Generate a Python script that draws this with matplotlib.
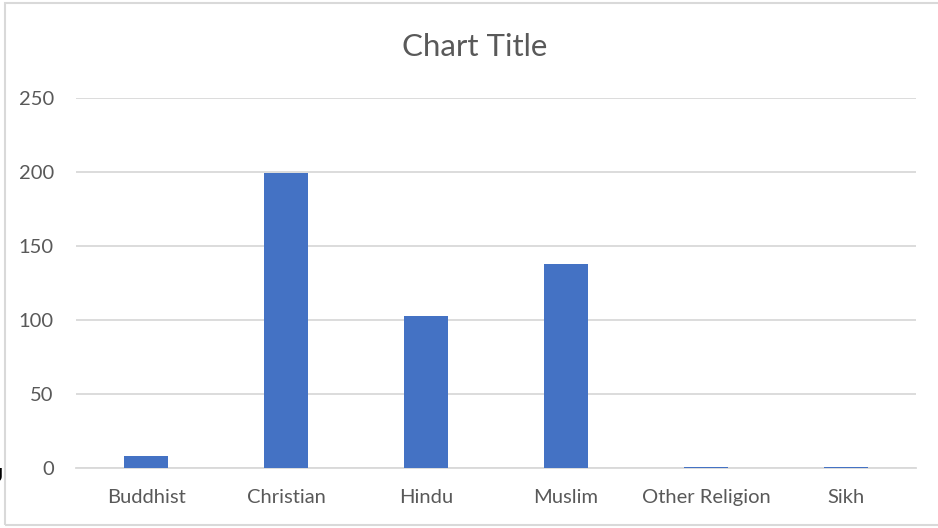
import matplotlib
matplotlib.use("Agg")
import matplotlib.pyplot as plt
from matplotlib.patches import Rectangle

categories = ["Buddhist", "Christian", "Hindu", "Muslim", "Other Religion", "Sikh"]
values = [8, 199, 103, 138, 1, 1]
yticks = [0, 50, 100, 150, 200, 250]

plt.rcParams['font.family'] = ['Lato', 'DejaVu Sans']
text_color = '#595959'
grid_color = '#D9D9D9'

fig = plt.figure(figsize=(9.38, 5.28), dpi=100)
ax = fig.add_axes([76/938, 60/528, 840/938, 370/528])

ax.bar(range(len(categories)), values, width=0.314, color='#4472C4', zorder=5)
ax.set_xlim(-0.5, len(categories) - 0.5)
ax.set_ylim(0, 250)
ax.set_yticks(yticks)
ax.set_xticks(range(len(categories)))
ax.set_xticklabels(categories)
ax.tick_params(axis='both', length=0, labelsize=14.5, colors=text_color)
ax.tick_params(axis='y', pad=16)
ax.tick_params(axis='x', pad=15)
ax.grid(axis='y', color=grid_color, linewidth=1.3, zorder=0)
for s in ['top', 'right', 'left']:
    ax.spines[s].set_visible(False)
ax.spines['bottom'].set_color(grid_color)
ax.spines['bottom'].set_linewidth(1.3)
ax.spines['bottom'].set_zorder(4)

fig.text(475/938, 1 - 47/528, "Chart Title", ha='center', va='center',
         fontsize=22.5, color=text_color)

# chart area border
fig.patches.append(Rectangle((5/938, 3/528), 1.1, 522/528, transform=fig.transFigure,
                             fill=False, edgecolor=grid_color, linewidth=1.5))

fig.text(3/938, 1 - 476/528, "U", ha='right', va='center', fontsize=14, color='black')

fig.savefig("out.png", dpi=100)
